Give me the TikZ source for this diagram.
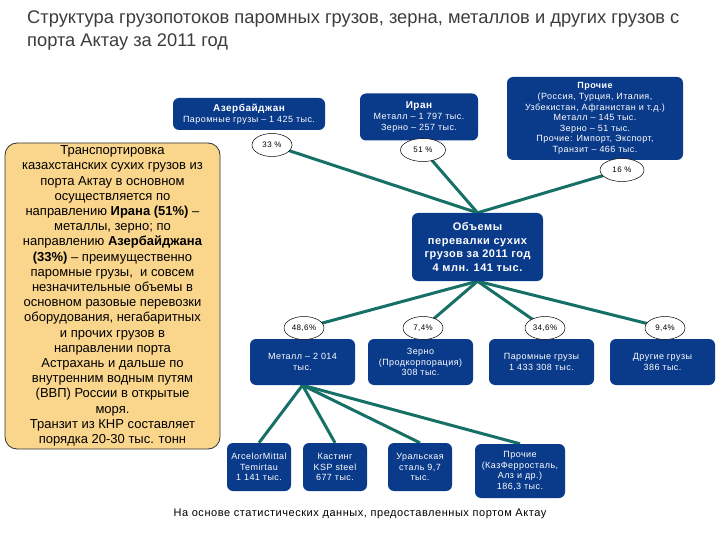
\documentclass[tikz,border=0pt]{standalone}
\usepackage{fontspec}
\setmainfont{Liberation Sans}
\newfontfamily\trackfont[LetterSpace=5]{Liberation Sans}
\usetikzlibrary{shapes.geometric}
\definecolor{boxblue}{RGB}{10,58,138}
\definecolor{linkteal}{RGB}{22,112,102}
\definecolor{tanfill}{RGB}{250,214,140}
\definecolor{titlegrey}{RGB}{60,60,60}
\pgfdeclarelayer{bg}
\pgfsetlayers{bg,main}
\begin{document}
\begin{tikzpicture}[x=1pt,y=-1pt,
  bluebox/.style={rectangle, rounded corners=6pt, fill=boxblue, text=white, align=center, inner sep=1pt, font=\trackfont\fontsize{9}{10.6}\selectfont},
  pct/.style={ellipse, draw=black, line width=0.5pt, fill=white, inner sep=0pt, minimum width=40pt, minimum height=23pt, font=\trackfont\fontsize{8}{9}\selectfont},
  link/.style={line width=3pt, draw=linkteal},
  notebox/.style={rectangle, rounded corners=12pt, draw=black!80, line width=0.8pt, fill=tanfill, align=center, inner sep=1pt, font=\fontsize{13}{15.2}\selectfont}
]
\useasboundingbox (0,0) rectangle (720,540);
% title
\node[anchor=north west, inner sep=0pt, align=left, text=titlegrey, font=\fontsize{18.3}{23}\selectfont] (title) at (27,11)
  {Структура грузопотоков паромных грузов, зерна, металлов и других грузов с\\порта Актау за 2011 год};
% top boxes
\node[bluebox, minimum width=152pt, minimum height=32pt] (az) at (249,114)
  {{\fontsize{10}{12}\selectfont\bfseries Азербайджан}\\Паромные грузы – 1 425 тыс.};
\node[bluebox, minimum width=118pt, minimum height=47pt] (ir) at (419,117)
  {{\fontsize{10}{12}\selectfont\bfseries Иран}\\Металл – 1 797 тыс.\\Зерно – 257 тыс.};
\node[bluebox, minimum width=176pt, minimum height=83pt] (pr) at (595,118.5)
  {{\bfseries Прочие}\\(Россия, Турция, Италия,\\Узбекистан, Афганистан и т.д.)\\Металл – 145 тыс.\\Зерно – 51 тыс.\\Прочие: Импорт, Экспорт,\\Транзит – 466 тыс.};
% note box
\node[notebox, minimum width=215pt, minimum height=306pt] (note) at (112.5,296)
  {Транспортировка\\казахстанских сухих грузов из\\порта Актау в основном\\осуществляется по\\направлению \textbf{Ирана (51\%)} –\\металлы, зерно; по\\направлению \textbf{Азербайджана}\\\textbf{(33\%)} – преимущественно\\паромные грузы,\ \ и совсем\\незначительные объемы в\\основном разовые перевозки\\оборудования, негабаритных\\и прочих грузов в\\направлении порта\\Астрахань и дальше по\\внутренним водным путям\\(ВВП) России в открытые\\моря.\\Транзит из КНР составляет\\порядка 20-30 тыс. тонн};
% central box
\node[bluebox, minimum width=131pt, minimum height=68pt, font=\trackfont\fontsize{11}{13.4}\selectfont\bfseries] (vol) at (477.5,247)
  {Объемы\\перевалки сухих\\грузов за 2011 год\\4 млн. 141 тыс.};
% top percentages
\node[pct] (p33) at (272,145) {33 \%};
\node[pct, minimum width=45pt] (p51) at (423,150) {51 \%};
\node[pct, minimum width=44pt] (p16) at (622,170) {16 \%};
% second row
\node[bluebox, minimum width=105pt, minimum height=46pt] (met) at (302.5,362) {Металл – 2 014\\тыс.};
\node[bluebox, minimum width=105pt, minimum height=46pt] (grain) at (420.5,362) {Зерно\\(Продкорпорация)\\308 тыс.};
\node[bluebox, minimum width=105pt, minimum height=46pt] (ferry) at (541.5,362) {Паромные грузы\\1 433 308 тыс.};
\node[bluebox, minimum width=105pt, minimum height=46pt] (other) at (662.5,362) {Другие грузы\\386 тыс.};
\node[pct] (p486) at (304,328) {48,6\%};
\node[pct] (p74) at (423,328) {7,4\%};
\node[pct] (p346) at (545,328) {34,6\%};
\node[pct] (p94) at (665,328) {9,4\%};
% third row
\node[bluebox, minimum width=64pt, minimum height=48pt] (am) at (259,467) {ArcelorMittal\\Temirtau\\1 141 тыс.};
\node[bluebox, minimum width=64pt, minimum height=48pt] (ksp) at (335,467) {Кастинг\\KSP steel\\677 тыс.};
\node[bluebox, minimum width=64pt, minimum height=48pt] (ural) at (420,467) {Уральская\\сталь 9,7\\тыс.};
\node[bluebox, minimum width=90pt, minimum height=54pt] (proch) at (520,471) {Прочие\\(КазФерросталь,\\Алз и др.)\\186,3 тыс.};
% footer
\node[font=\trackfont\fontsize{11}{13}\selectfont, inner sep=0pt] (foot) at (360,514) {На основе статистических данных, предоставленных портом Актау};
% connectors
\begin{pgfonlayer}{bg}
\draw[link] (p33.center) -- (vol.north);
\draw[link] (p51.center) -- (vol.north);
\draw[link] (p16.center) -- (vol.north);
\draw[link] (vol.south) -- (p486.center);
\draw[link] (vol.south) -- (p74.center);
\draw[link] (vol.south) -- (p346.center);
\draw[link] (vol.south) -- (p94.center);
\draw[link] (met.south) -- (am.north);
\draw[link] (met.south) -- (ksp.north);
\draw[link] (met.south) -- (ural.north);
\draw[link] (met.south) -- (proch.north);
\end{pgfonlayer}
\end{tikzpicture}
\end{document}
